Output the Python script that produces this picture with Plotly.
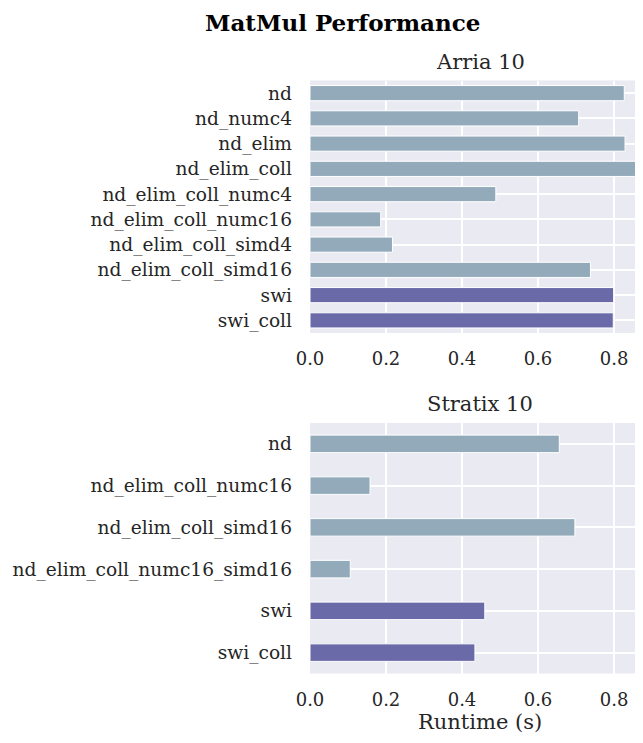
import plotly.graph_objects as go
from plotly.subplots import make_subplots

arria_labels = ["nd", "nd_numc4", "nd_elim", "nd_elim_coll", "nd_elim_coll_numc4",
                "nd_elim_coll_numc16", "nd_elim_coll_simd4", "nd_elim_coll_simd16",
                "swi", "swi_coll"]
arria_values = [0.827, 0.707, 0.829, 0.868, 0.489, 0.186, 0.217, 0.738, 0.799, 0.798]

stratix_labels = ["nd", "nd_elim_coll_numc16", "nd_elim_coll_simd16",
                  "nd_elim_coll_numc16_simd16", "swi", "swi_coll"]
stratix_values = [0.656, 0.158, 0.697, 0.106, 0.460, 0.434]

x_ticks = [0.0, 0.2, 0.4, 0.6, 0.8]

LIGHT = "#93AABB"
DARK = "#6A6AA8"
BG = "#EAEAF2"
FONT = "DejaVu Serif"
TXT = "#262626"

OFF = 8  # page body margin
W, H = 643 - OFF, 743 - 2 * OFF

def px(x):
    return (x - OFF) / W

def py(y):
    return 1 - (y - OFF) / H

def colors(labels):
    return [DARK if l.startswith("swi") else LIGHT for l in labels]

fig = make_subplots(rows=2, cols=1)

fig.add_trace(go.Bar(x=arria_values, y=arria_labels, orientation="h", width=0.6,
                     marker=dict(color=colors(arria_labels), line=dict(color="white", width=1)),
                     showlegend=False), row=1, col=1)
fig.add_trace(go.Bar(x=stratix_values, y=stratix_labels, orientation="h", width=0.42,
                     marker=dict(color=colors(stratix_labels), line=dict(color="white", width=1)),
                     showlegend=False), row=2, col=1)

xd = [px(310), px(641)]
common_x = dict(range=[0, 0.871], tickvals=x_ticks, ticktext=[f"{v:.1f}" for v in x_ticks],
                showgrid=True, gridcolor="white", gridwidth=1.5, zeroline=False,
                showline=False, ticks="", ticklabelstandoff=13,
                tickfont=dict(family=FONT, size=18, color=TXT), domain=xd, automargin=False)
common_y = dict(showgrid=True, gridcolor="white", gridwidth=1.5, zeroline=False, showline=False,
                ticks="", ticklabelstandoff=17, automargin=False,
                tickfont=dict(family=FONT, size=18.6, color=TXT))

fig.update_xaxes(**common_x, row=1, col=1)
fig.update_xaxes(**common_x, row=2, col=1)
fig.update_yaxes(**common_y, categoryorder="array", categoryarray=arria_labels,
                 range=[len(arria_labels) - 0.5, -0.5],
                 domain=[py(333), py(80.5)], row=1, col=1)
fig.update_yaxes(**common_y, categoryorder="array", categoryarray=stratix_labels,
                 range=[len(stratix_labels) - 0.5, -0.5],
                 domain=[py(673.5), py(423)], row=2, col=1)

fig.add_annotation(text="<b>MatMul Performance</b>", x=px(342), y=1, xref="paper", yref="paper",
                   showarrow=False, font=dict(family=FONT, size=23, color="black"),
                   xanchor="center", yanchor="top", borderpad=0)
fig.add_annotation(text="Arria 10", x=px(480), y=py(62), xref="paper", yref="paper",
                   showarrow=False, font=dict(family=FONT, size=21, color=TXT),
                   xanchor="center", yanchor="middle")
fig.add_annotation(text="Stratix 10", x=px(480), y=py(404), xref="paper", yref="paper",
                   showarrow=False, font=dict(family=FONT, size=21, color=TXT),
                   xanchor="center", yanchor="middle")
fig.add_annotation(text="Runtime (s)", x=px(480), y=0, xref="paper", yref="paper",
                   showarrow=False, font=dict(family=FONT, size=21, color=TXT),
                   xanchor="center", yanchor="bottom", borderpad=0)

fig.update_layout(width=W, height=H, margin=dict(l=0, r=0, t=0, b=0),
                  paper_bgcolor="white", plot_bgcolor=BG,
                  font=dict(family=FONT, color=TXT))

fig.write_html("out.html")
